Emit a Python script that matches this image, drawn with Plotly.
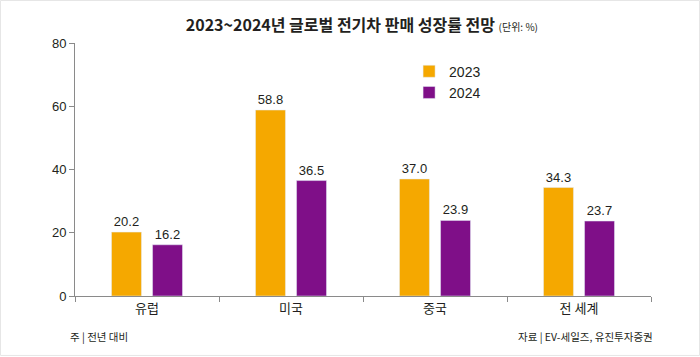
import plotly.graph_objects as go

categories = ["유럽", "미국", "중국", "전 세계"]
values_2023 = [20.2, 58.8, 37.0, 34.3]
values_2024 = [16.2, 36.5, 23.9, 23.7]
y_ticks = [0, 20, 40, 60, 80]

FONT = "Liberation Sans, Noto Sans CJK KR, sans-serif"
KFONT = "Noto Sans CJK KR, sans-serif"
TXT = "#231f20"

fig = go.Figure()
fig.add_trace(go.Bar(
    name="2023", x=categories, y=values_2023, marker_color="#f5a800",
    text=[f"{v:.1f}" for v in values_2023], textposition="outside",
    textfont=dict(size=13, color=TXT, family=FONT), cliponaxis=False,
))
fig.add_trace(go.Bar(
    name="2024", x=categories, y=values_2024, marker_color="#7f0f88",
    text=[f"{v:.1f}" for v in values_2024], textposition="outside",
    textfont=dict(size=13, color=TXT, family=FONT), cliponaxis=False,
))

fig.update_layout(
    width=700, height=357,
    margin=dict(l=75, r=49, t=43, b=61),
    paper_bgcolor="white", plot_bgcolor="white",
    barmode="group", bargap=0.43, bargroupgap=0.27,
    font=dict(family=FONT, color=TXT, size=13),
    showlegend=True,
    legend=dict(x=0.58, y=0.95, xanchor="left", yanchor="top",
                font=dict(size=14, color=TXT, family=FONT),
                itemwidth=30, tracegroupgap=4, bgcolor="rgba(0,0,0,0)"),
    title=dict(
        text="<b>2023~2024년 글로벌 전기차 판매 성장률 전망</b> <span style='font-size:10px'>(단위: %)</span>",
        x=0.517, xanchor="center", y=0.93, yanchor="middle",
        font=dict(family=KFONT, size=16, color=TXT),
    ),
)
fig.update_yaxes(
    range=[0, 80], tickvals=y_ticks, showgrid=False, zeroline=False,
    showline=True, linecolor="#8a8a8a", linewidth=1,
    ticks="outside", ticklen=5, tickcolor="#8a8a8a",
    tickfont=dict(size=13, color=TXT, family=FONT),
)
fig.update_xaxes(
    showgrid=False, showline=True, linecolor="#8a8a8a", linewidth=1,
    ticks="outside", ticklen=5, tickcolor="#8a8a8a", tickson="boundaries",
    tickfont=dict(size=13, color=TXT, family=KFONT),
)
fig.add_annotation(text="주 | 전년 대비", xref="paper", yref="paper", x=-0.012, y=-0.162,
                   xanchor="left", yanchor="middle", showarrow=False,
                   font=dict(size=10.5, color=TXT, family=KFONT))
fig.add_annotation(text="자료 | EV-세일즈, 유진투자증권", xref="paper", yref="paper", x=1.007, y=-0.162,
                   xanchor="right", yanchor="middle", showarrow=False,
                   font=dict(size=10.5, color=TXT, family=KFONT))
fig.add_shape(type="rect", xref="paper", yref="paper", x0=-0.1293, x1=1.0842, y0=-0.235, y1=1.168,
              line=dict(color="#e6e6e6", width=1), layer="below")

fig.write_html("out.html", config={"displayModeBar": False},
               post_script="document.body.style.margin='0';")
